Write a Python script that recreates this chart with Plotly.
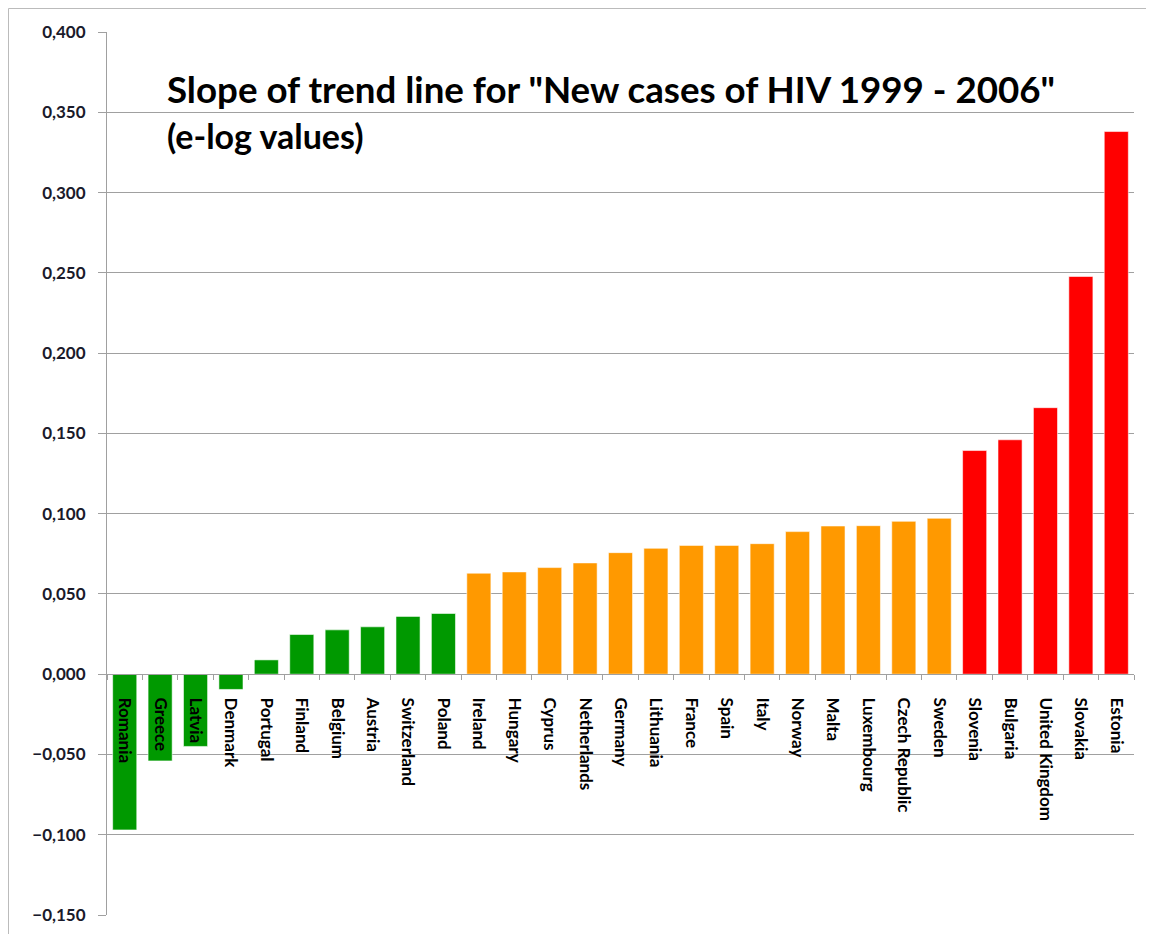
import plotly.graph_objects as go

countries = ["Romania", "Greece", "Latvia", "Denmark", "Portugal", "Finland", "Belgium",
             "Austria", "Switzerland", "Poland", "Ireland", "Hungary", "Cyprus", "Netherlands",
             "Germany", "Lithuania", "France", "Spain", "Italy", "Norway", "Malta",
             "Luxembourg", "Czech Republic", "Sweden", "Slovenia", "Bulgaria",
             "United Kingdom", "Slovakia", "Estonia"]
slopes = [-0.097, -0.054, -0.045, -0.0095, 0.0089, 0.0247, 0.0276, 0.0295, 0.036, 0.0378,
          0.0629, 0.0637, 0.0664, 0.0693, 0.0757, 0.0784, 0.0802, 0.0802, 0.0813, 0.0888,
          0.0923, 0.0925, 0.0952, 0.0971, 0.1393, 0.146, 0.166, 0.2477, 0.338]
groups = ["low"] * 10 + ["mid"] * 14 + ["high"] * 5
group_colors = {"low": "#009900", "mid": "#FF9900", "high": "#FF0000"}
y_ticks = [-0.15, -0.1, -0.05, 0.0, 0.05, 0.1, 0.15, 0.2, 0.25, 0.3, 0.35, 0.4]

y_min, y_max = -0.15, 0.4

fig = go.Figure(go.Bar(
    x=countries, y=slopes,
    marker=dict(color=[group_colors[g] for g in groups],
                line=dict(color="rgba(255,255,255,0.55)", width=1)),
    width=0.68,
))

fig.update_layout(
    width=1146, height=926,
    margin=dict(l=99, r=20, t=24, b=19),
    paper_bgcolor="white", plot_bgcolor="white",
    separators=",.",
    showlegend=False,
    font=dict(family="Lato", color="#000000"),
    annotations=[
        dict(text='<b>Slope of trend line for "New cases of HIV 1999 - 2006"</b>',
             xref="paper", yref="paper", x=0.056, y=0.935, xanchor="left", yanchor="middle",
             showarrow=False, font=dict(size=36.7, family="Lato", color="black")),
        dict(text="<b>(e-log values)</b>",
             xref="paper", yref="paper", x=0.056, y=0.883, xanchor="left", yanchor="middle",
             showarrow=False, font=dict(size=34, family="Lato", color="black")),
    ],
    shapes=[
        dict(type="line", xref="paper", yref="paper", x0=-0.0959, x1=1.03, y0=1.0266, y1=1.0266,
             line=dict(color="#BBBBBB", width=1)),
        dict(type="line", xref="paper", yref="paper", x0=-0.0959, x1=-0.0959, y0=1.0266, y1=-0.03,
             line=dict(color="#BBBBBB", width=1)),
    ],
)

fig.update_yaxes(
    range=[y_min, y_max], tickvals=y_ticks, tickformat=".3f",
    showgrid=True, gridcolor="#A0A0A0", gridwidth=1,
    showline=True, linecolor="#A0A0A0", linewidth=1,
    ticks="outside", ticklen=8, tickcolor="#A0A0A0",
    ticklabelstandoff=9,
    tickfont=dict(size=17, family="Lato", color="#1a1a2a", weight="bold"),
    zeroline=False, automargin=False,
)

fig.update_xaxes(
    type="category",
    anchor="free", position=(0 - y_min) / (y_max - y_min),
    showline=True, linecolor="#A0A0A0", linewidth=1,
    ticks="outside", ticklen=5, tickcolor="#A0A0A0", tickson="boundaries",
    tickangle=90, ticklabelstandoff=19,
    tickfont=dict(size=17, family="Lato", color="black", weight="bold"),
    showgrid=False, automargin=False,
)

fig.write_html("out.html")
